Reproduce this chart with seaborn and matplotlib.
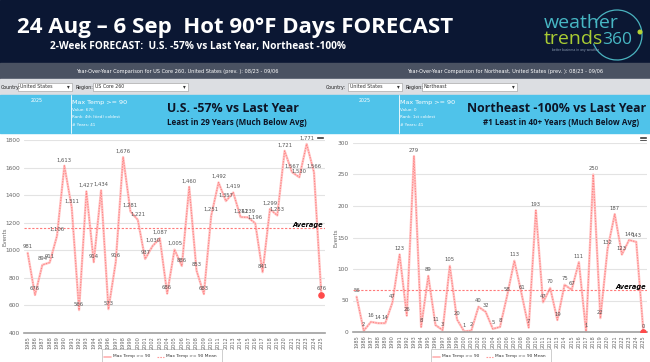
import numpy as np
import pandas as pd
import seaborn as sns
import matplotlib
matplotlib.use('Agg')
import matplotlib.pyplot as plt
from matplotlib.patches import Rectangle, Arc, Circle

years = list(range(1985, 2026))

us_values = [981, 676, 894, 911, 1106, 1613, 1311, 566, 1427, 914,
             1434, 573, 916, 1676, 1281, 1221, 937, 1030, 1087, 686,
             1005, 886, 1460, 853, 683, 1251, 1492, 1357, 1419, 1241,
             1239, 1196, 841, 1299, 1253, 1721, 1567, 1530, 1771, 1566,
             676]

ne_values = [56, 2, 16, 14, 14, 47, 123, 26, 279, 8,
             89, 11, 3, 105, 20, 1, 2, 40, 32, 5,
             8, 58, 113, 61, 7, 193, 47, 70, 19, 75,
             67, 111, 1, 250, 22, 132, 187, 123, 146, 143,
             0]

us_ticks = [400, 600, 800, 1000, 1200, 1400, 1600, 1800]
ne_ticks = [0, 50, 100, 150, 200, 250, 300]

title = "24 Aug \u2013 6 Sep  Hot 90\u00b0F Days FORECAST"
subtitle = "2-Week FORECAST:  U.S. -57% vs Last Year, Northeast -100%"

panels = [
    dict(name="US Core 260", values=us_values, ticks=us_ticks,
         head="U.S. -57% vs Last Year", sub="Least in 29 Years (Much Below Avg)",
         info=["Value: 676", "Rank: 4th (tied) coldest", "# Years: 41"]),
    dict(name="Northeast", values=ne_values, ticks=ne_ticks,
         head="Northeast -100% vs Last Year", sub="#1 Least in 40+ Years (Much Below Avg)",
         info=["Value: 0", "Rank: 1st coldest", "# Years: 41"]),
]

W, H = 650, 362
sns.set_style("white")
plt.rcParams['font.family'] = ['DejaVu Sans']

fig = plt.figure(figsize=(W / 100, H / 100), dpi=100)
bg = fig.add_axes([0, 0, 1, 1])
bg.set_xlim(0, W)
bg.set_ylim(H, 0)
bg.axis('off')

NAVY = '#0b1733'
STRIP = '#4a5262'
LIGHT = '#dcdee2'
BLUE = '#4fc3ea'

# header
bg.add_patch(Rectangle((0, 0), W, 63, color=NAVY, zorder=0))
bg.text(17, 27, title, color='white', fontsize=16, fontweight='bold',
        family='Open Sans', va='center', ha='left')
bg.text(50, 47, subtitle, color='white', fontsize=7.3, fontweight='bold',
        family='Open Sans', va='center', ha='left')

# logo
bg.add_patch(Arc((617, 35), 50, 50, theta1=-150, theta2=160, color='#4ab3bf', lw=0.9))
bg.add_patch(Circle((640, 32), 1.8, color='#b7d334'))
bg.text(544, 28, "weather", color='#47b7c4', fontsize=14, family='Open Sans', va='baseline')
bg.text(544, 44, "trends", color='#a9cc33', fontsize=14, family='Open Sans', va='baseline')
bg.text(602, 44, "360", color='#47b7c4', fontsize=12.5, family='Open Sans', va='baseline')
bg.text(552, 49.5, "better business in any weather", color='#8fa0b5', fontsize=2.2, va='center')

# gray strip, dropdown row, blue band
bg.add_patch(Rectangle((0, 63), W, 16, color=STRIP, zorder=0))
bg.add_patch(Rectangle((0, 79), W, 16, color=LIGHT, zorder=0))
bg.add_patch(Rectangle((0, 95), W, 38, color=BLUE, zorder=0))

for i, p in enumerate(panels):
    x0 = 0 if i == 0 else 325
    bg.text(x0 + (177 if i == 0 else 180), 72,
            f"Year-Over-Year Comparison for {p['name']}, United States (prev. ): 08/23 - 09/06",
            color='white', fontsize=3.6, ha='center', va='center')
    # dropdowns
    bx = [18, 93] if i == 0 else [23, 97]
    bw = [54, 95]
    bg.text(x0 + 0.5, 87, "Country:", fontsize=3.4, color='#222', va='center')
    bg.text(x0 + bx[1] - 17, 87, "Region:", fontsize=3.4, color='#222', va='center')
    for k, lab in enumerate(["United States", p['name']]):
        bg.add_patch(Rectangle((x0 + bx[k], 83), bw[k], 8, facecolor='white',
                               edgecolor='#999', lw=0.4))
        bg.text(x0 + bx[k] + 2, 87, lab, fontsize=3.4, color='#333', va='center')
        bg.text(x0 + bx[k] + bw[k] - 4, 87, "\u25be", fontsize=4, color='#333',
                va='center', ha='center')
    # blue band
    vx = x0 + (71 if i == 0 else 74)
    bg.plot([vx, vx], [95, 133], color='white', lw=0.6)
    bg.text(vx - 34, 101, "2025", color='white', fontsize=3.4, ha='center', va='center')
    bg.text(vx + 1.5, 102.5, "Max Temp >= 90", color='white', fontsize=4.6, va='center')
    for k, line in enumerate(p['info']):
        bg.text(vx + 1.5, 110 + 7.5 * k, line, color='white', fontsize=3.0, va='center')
    cx = x0 + (233 if i == 0 else 232)
    bg.text(cx, 108, p['head'], color='#0d1526', fontsize=8.9, fontweight='bold',
            family='Open Sans', ha='center', va='center')
    bg.text(cx + 4, 122.5, p['sub'], color='#0d1526', fontsize=5.8, fontweight='bold',
            family='Open Sans', ha='center', va='center')

# charts
axes_px = [(24, 140, 325, 333), (353, 143, 647, 332)]
for i, p in enumerate(panels):
    l, t, r, b = axes_px[i]
    ax = fig.add_axes([l / W, 1 - b / H, (r - l) / W, (b - t) / H])
    ax.set_facecolor('none')
    df = pd.DataFrame({'year': years, 'events': p['values']})
    mean = df['events'].mean()

    sns.lineplot(data=df, x='year', y='events', ax=ax, color='#ffc4c4', lw=1.7)
    sns.lineplot(data=df, x='year', y='events', ax=ax, color='#ff8585', lw=0.8,
                 linestyle=(0, (1.2, 1.2)))
    ax.axhline(mean, color='#ff7a7a', lw=0.8, ls=(0, (2, 1.5)))
    last = df.iloc[-1]
    ax.scatter([last['year']], [last['events']], s=14, color='#ff4a4a', zorder=5)

    for yr, v in zip(years, p['values']):
        ax.annotate(f"{v:,}", (yr, v), xytext=(0, 2.5), textcoords='offset points',
                    ha='center', va='bottom', fontsize=3.8, color='#555')

    ax.text(2025.3, mean, "Average", fontsize=4.8, fontweight='bold', style='italic',
            ha='right', va='bottom', color='black')

    ax.set_xlim(1984.5, 2025.5)
    ax.set_ylim(p['ticks'][0], p['ticks'][-1])
    ax.set_yticks(p['ticks'])
    ax.set_xticks(years)
    ax.set_xticklabels([str(y) for y in years], rotation=90, fontsize=3.6, color='#666')
    ax.tick_params(axis='y', labelsize=4.2, labelcolor='#666', length=0, pad=3)
    ax.tick_params(axis='x', length=1.5, pad=1, color='#999')
    ax.grid(axis='y', color='#e3e3e3', lw=0.8)
    for s in ['top', 'right', 'left']:
        ax.spines[s].set_visible(False)
    ax.spines['bottom'].set_color('#a0a0a0')
    ax.spines['bottom'].set_linewidth(1.2)
    ax.set_xlabel('')
    ax.set_ylabel('Events', fontsize=4.0, color='#666')
    ax.yaxis.set_label_coords(((7, 338)[i] - l) / (r - l), 0.5)

    # hamburger menu
    mx = (320, 643)[i]
    for dy in (-1.5, 0, 1.5):
        bg.plot([mx - 3, mx + 3], [138 + dy, 138 + dy], color='#555', lw=0.7)

    # legend
    lx = (102, 431)[i]
    bg.add_patch(Rectangle((lx, 349), 120, 16, facecolor='white', edgecolor='#bbb', lw=0.5))
    bg.plot([lx + 2, lx + 9], [356.5, 356.5], color='#ffb0b0', lw=1.2)
    bg.text(lx + 11, 356.5, "Max Temp >= 90", fontsize=3.2, color='#333', va='center')
    bg.plot([lx + 55, lx + 62], [356.5, 356.5], color='#ff9a9a', lw=0.8, ls=(0, (1.5, 1)))
    bg.text(lx + 64, 356.5, "Max Temp >= 90 Mean", fontsize=3.2, color='#333', va='center')

fig.savefig('out.png', dpi=100)
